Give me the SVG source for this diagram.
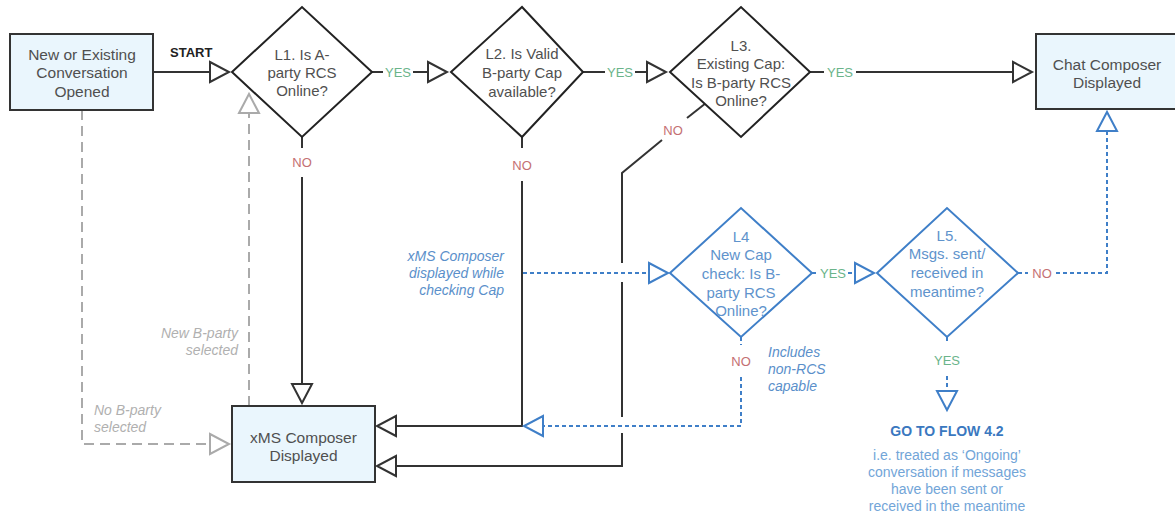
<svg xmlns="http://www.w3.org/2000/svg" width="1175" height="514" viewBox="0 0 1175 514">
<style>
 text { font-family: "Liberation Sans", Arial, sans-serif; }
 .box { fill:#eaf6fd; stroke:#333; stroke-width:2; }
 .dia { fill:#fff; stroke:#222; stroke-width:2; }
 .bdia { fill:#fff; stroke:#3f7fc8; stroke-width:2; }
 .t { font-size:15.5px; fill:#505050; text-anchor:middle; }
 .dt { font-size:15px; fill:#505050; text-anchor:middle; }
 .bt { font-size:15px; fill:#6093cc; text-anchor:middle; }
 .ln { fill:none; stroke:#333; stroke-width:2; }
 .gl { fill:none; stroke:#aaa; stroke-width:2; stroke-dasharray:10 6; }
 .bl { fill:none; stroke:#3f7fc8; stroke-width:2; stroke-dasharray:4 3; }
 .yes { font-size:13px; fill:#6ab48a; text-anchor:middle; }
 .no { font-size:13px; fill:#c46f72; text-anchor:middle; }
 .gi { font-size:14px; fill:#b0b0b0; font-style:italic; }
 .bi { font-size:14px; fill:#5a8fca; font-style:italic; }
 .start { font-size:13px; font-weight:bold; fill:#222; }
 .go { font-size:14px; font-weight:bold; fill:#3a78bf; text-anchor:middle; }
 .sub { font-size:14px; fill:#72a5d8; text-anchor:middle; }
</style>
<defs>
 <marker id="ab" viewBox="-2 -12 24 24" markerWidth="24" markerHeight="24" refX="19" refY="0" orient="auto" markerUnits="userSpaceOnUse">
  <path d="M0,-10 L19,0 L0,10 Z" fill="#fff" stroke="#333" stroke-width="2"/>
 </marker>
 <marker id="ag" viewBox="-2 -12 24 24" markerWidth="24" markerHeight="24" refX="19" refY="0" orient="auto" markerUnits="userSpaceOnUse">
  <path d="M0,-10 L19,0 L0,10 Z" fill="#fff" stroke="#aaa" stroke-width="2"/>
 </marker>
 <marker id="abl" viewBox="-2 -12 24 24" markerWidth="24" markerHeight="24" refX="19" refY="0" orient="auto" markerUnits="userSpaceOnUse">
  <path d="M0,-10 L19,0 L0,10 Z" fill="#fff" stroke="#3f7fc8" stroke-width="2"/>
 </marker>
</defs>

<g id="connectors">
 <path class="ln" d="M153,72 H229" marker-end="url(#ab)"/>
 <path class="ln" d="M372,72 H383"/>
 <path class="ln" d="M413,72 H447" marker-end="url(#ab)"/>
 <path class="ln" d="M583,72 H605"/>
 <path class="ln" d="M635,72 H666" marker-end="url(#ab)"/>
 <path class="ln" d="M810,72 H824"/>
 <path class="ln" d="M856,72 H1032" marker-end="url(#ab)"/>
 <path class="ln" d="M302,137 V148"/>
 <path class="ln" d="M302,177 V403" marker-end="url(#ab)"/>
 <path class="ln" d="M522,137 V148"/>
 <path class="ln" d="M522,181 V426 H377" marker-end="url(#ab)"/>
 <path class="ln" d="M706,103 L687,118"/>
 <path class="ln" d="M662,140 L622,173 V263"/>
 <path class="ln" d="M622,282 V417"/>
 <path class="ln" d="M622,433 V466 H377" marker-end="url(#ab)"/>
 <path class="gl" d="M82,110 V444 H229" marker-end="url(#ag)"/>
 <path class="gl" d="M249,406 V94" marker-end="url(#ag)"/>
 <path class="bl" d="M523,273 H668" marker-end="url(#abl)"/>
 <path class="bl" d="M741,337 V345"/>
 <path class="bl" d="M741,377 V426 H524" marker-end="url(#abl)"/>
 <path class="bl" d="M812,273 H819"/>
 <path class="bl" d="M848,273 H874" marker-end="url(#abl)"/>
 <path class="bl" d="M1018,273 H1028"/>
 <path class="bl" d="M1056,273 H1107 V112" marker-end="url(#abl)"/>
 <path class="bl" d="M947,337 V343"/>
 <path class="bl" d="M947,376 V410" marker-end="url(#abl)"/>

 <text class="start" x="170" y="57">START</text>
 <text class="yes" x="398" y="77">YES</text>
 <text class="yes" x="620" y="77">YES</text>
 <text class="yes" x="840" y="77">YES</text>
 <text class="no" x="302" y="167">NO</text>
 <text class="no" x="522" y="170">NO</text>
 <text class="no" x="673" y="135">NO</text>
 <text class="no" x="741" y="366">NO</text>
 <text class="yes" x="833" y="278">YES</text>
 <text class="no" x="1042" y="278">NO</text>
 <text class="yes" x="947" y="365">YES</text>
 <text class="gi" x="238" y="338" text-anchor="end">New B-party</text>
 <text class="gi" x="238" y="355" text-anchor="end">selected</text>
 <text class="gi" x="94" y="415">No B-party</text>
 <text class="gi" x="94" y="432">selected</text>
 <text class="bi" x="504" y="261" text-anchor="end">xMS Composer</text>
 <text class="bi" x="504" y="278" text-anchor="end">displayed while</text>
 <text class="bi" x="504" y="295" text-anchor="end">checking Cap</text>
 <text class="bi" x="768" y="357">Includes</text>
 <text class="bi" x="768" y="374">non-RCS</text>
 <text class="bi" x="768" y="391">capable</text>
</g>

<g id="start-box">
 <rect class="box" x="10" y="34" width="143" height="76"/>
 <text class="t" x="82" y="59.5">New or Existing</text>
 <text class="t" x="82" y="78">Conversation</text>
 <text class="t" x="82" y="96.5">Opened</text>
</g>
<g id="L1">
 <polygon class="dia" points="232,72 302,7 372,72 302,137"/>
 <text class="dt" x="302" y="59.5">L1. Is A-</text>
 <text class="dt" x="302" y="77.5">party RCS</text>
 <text class="dt" x="302" y="96">Online?</text>
</g>
<g id="L2">
 <polygon class="dia" points="451,72 522,7 583,72 522,137"/>
 <text class="dt" x="522" y="59">L2. Is Valid</text>
 <text class="dt" x="522" y="78">B-party Cap</text>
 <text class="dt" x="522" y="97">available?</text>
</g>
<g id="L3">
 <polygon class="dia" points="670,72 741,7 810,72 741,137"/>
 <text class="dt" x="741" y="50.5">L3.</text>
 <text class="dt" x="741" y="69">Existing Cap:</text>
 <text class="dt" x="741" y="87.5">Is B-party RCS</text>
 <text class="dt" x="741" y="106">Online?</text>
</g>
<g id="chat-box">
 <rect class="box" x="1036" y="34" width="142" height="75"/>
 <text class="t" x="1107" y="69.5">Chat Composer</text>
 <text class="t" x="1107" y="88">Displayed</text>
</g>
<g id="xms-box">
 <rect class="box" x="232" y="406" width="143" height="76"/>
 <text class="t" x="303.5" y="442.5">xMS Composer</text>
 <text class="t" x="303.5" y="460.5">Displayed</text>
</g>
<g id="L4">
 <polygon class="bdia" points="670,273 741,208 812,273 741,337"/>
 <text class="bt" x="741" y="241.5">L4</text>
 <text class="bt" x="741" y="259.5">New Cap</text>
 <text class="bt" x="741" y="278.5">check: Is B-</text>
 <text class="bt" x="741" y="297.5">party RCS</text>
 <text class="bt" x="741" y="315.5">Online?</text>
</g>
<g id="L5">
 <polygon class="bdia" points="877,273 947,208 1018,273 947,337"/>
 <text class="bt" x="947" y="240.5">L5.</text>
 <text class="bt" x="947" y="258.5">Msgs. sent/</text>
 <text class="bt" x="947" y="277.5">received in</text>
 <text class="bt" x="947" y="296.5">meantime?</text>
</g>
<g id="goto-flow">
 <text class="go" x="947" y="436">GO TO FLOW 4.2</text>
 <text class="sub" x="947" y="460">i.e. treated as ‘Ongoing’</text>
 <text class="sub" x="947" y="477">conversation if messages</text>
 <text class="sub" x="947" y="494">have been sent or</text>
 <text class="sub" x="947" y="511">received in the meantime</text>
</g>
</svg>
